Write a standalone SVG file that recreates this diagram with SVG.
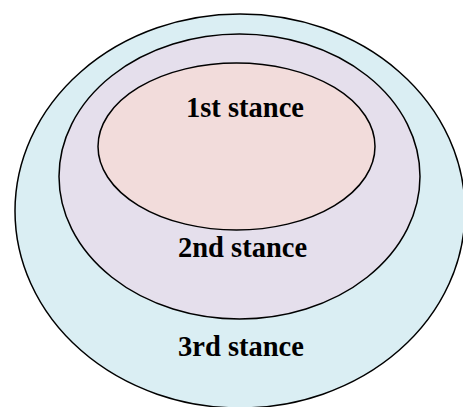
<svg xmlns="http://www.w3.org/2000/svg" width="463" height="407" viewBox="0 0 463 407">
  <style>
    .ring { stroke: #000; stroke-width: 1.5; }
    .label { font-family: "Liberation Serif", "Times New Roman", serif; font-weight: bold; font-size: 28.5px; text-anchor: middle; fill: #000; }
  </style>
  <rect width="463" height="407" fill="#fff"/>
  <g id="third-stance">
    <ellipse class="ring" cx="240" cy="211" rx="225" ry="197" fill="#DAEEF3"/>
    <text class="label" x="241" y="356">3rd stance</text>
  </g>
  <g id="second-stance">
    <ellipse class="ring" cx="239.5" cy="176.5" rx="180.5" ry="142.5" fill="#E5DFEC"/>
    <text class="label" x="242.5" y="257">2nd stance</text>
  </g>
  <g id="first-stance">
    <ellipse class="ring" cx="236.5" cy="146.5" rx="138.5" ry="83.5" fill="#F2DCDB"/>
    <text class="label" x="245" y="117">1st stance</text>
  </g>
  <g id="connectors"/>
</svg>
